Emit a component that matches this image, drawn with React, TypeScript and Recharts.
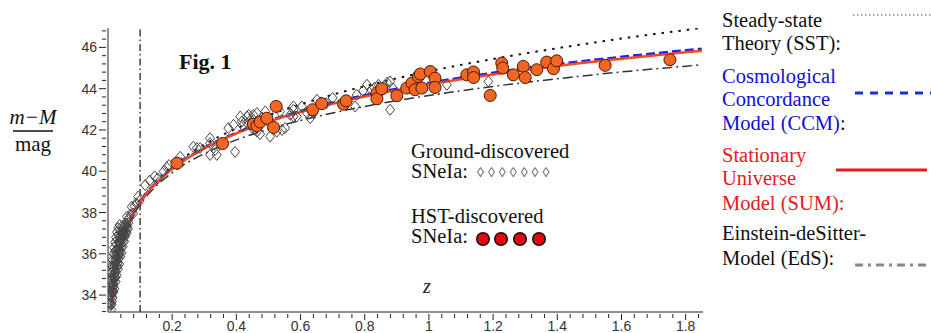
import React from "react";
import { ComposedChart, Line, Scatter, XAxis, YAxis, ReferenceLine } from "recharts";

// model curves at these redshifts
const modelZ = [0.01, 0.02, 0.03, 0.04, 0.05, 0.075, 0.1, 0.15, 0.2, 0.3, 0.4, 0.5, 0.6, 0.7, 0.8, 0.9, 1.0, 1.2, 1.4, 1.6, 1.8, 1.85];
const sstMag = [33.35, 34.88, 35.78, 36.43, 36.93, 37.86, 38.54, 39.51, 40.23, 41.29, 42.07, 42.71, 43.24, 43.71, 44.12, 44.5, 44.84, 45.44, 45.96, 46.43, 46.84, 46.94];
const ccmMag = [33.35, 34.87, 35.77, 36.41, 36.91, 37.83, 38.49, 39.44, 40.13, 41.13, 41.86, 42.43, 42.91, 43.32, 43.67, 43.99, 44.27, 44.76, 45.18, 45.53, 45.85, 45.92];
const sumMag = [33.35, 34.87, 35.77, 36.41, 36.91, 37.83, 38.49, 39.44, 40.12, 41.11, 41.83, 42.4, 42.87, 43.27, 43.62, 43.93, 44.21, 44.69, 45.1, 45.45, 45.76, 45.83];
const edsMag = [33.34, 34.85, 35.73, 36.36, 36.85, 37.74, 38.38, 39.28, 39.93, 40.85, 41.52, 42.03, 42.46, 42.82, 43.14, 43.42, 43.67, 44.11, 44.48, 44.81, 45.09, 45.16];

// ground-discovered SNe Ia [z, m-M]
const groundSNe = [
  [0.01, 33.3], [0.011, 33.55], [0.012, 33.7], [0.012, 33.95], [0.013, 34.1], [0.014, 33.85], [0.014, 34.35],
  [0.015, 34.2], [0.016, 34.55], [0.016, 34.8], [0.017, 34.45], [0.018, 34.95], [0.018, 35.2], [0.019, 34.7],
  [0.02, 35.05], [0.021, 35.4], [0.021, 34.9], [0.022, 35.25], [0.023, 35.55], [0.024, 35.1], [0.024, 35.75],
  [0.025, 35.45], [0.026, 35.9], [0.026, 35.3], [0.027, 35.65], [0.028, 36.05], [0.029, 35.8], [0.03, 35.55],
  [0.03, 36.2], [0.031, 36.0], [0.032, 35.75], [0.033, 36.35], [0.034, 36.1], [0.035, 36.55], [0.036, 36.3],
  [0.037, 36.05], [0.038, 36.7], [0.039, 36.45], [0.04, 36.85], [0.041, 36.6], [0.042, 36.3], [0.043, 36.95],
  [0.044, 36.75], [0.045, 37.05], [0.046, 36.85], [0.047, 37.2], [0.048, 36.6], [0.049, 37.0], [0.05, 37.25],
  [0.052, 36.95], [0.053, 37.15], [0.055, 37.35], [0.057, 37.1], [0.058, 37.45], [0.06, 37.3], [0.059, 37.8],
  [0.062, 37.65], [0.064, 37.5], [0.067, 37.75], [0.07, 37.9], [0.074, 38.28], [0.078, 37.95], [0.083, 38.3],
  [0.088, 38.45], [0.094, 38.77], [0.098, 38.55],
  [0.007, 33.6], [0.008, 34.0], [0.009, 34.4], [0.01, 34.75], [0.011, 35.1], [0.013, 35.4], [0.015, 35.7],
  [0.017, 36.0], [0.019, 36.3], [0.022, 36.55], [0.025, 36.8], [0.028, 37.05], [0.032, 37.25], [0.036, 37.4],
  [0.02, 34.3], [0.024, 34.65], [0.027, 34.95], [0.031, 35.25], [0.035, 35.5], [0.038, 35.85], [0.042, 36.05],
  [0.046, 36.35], [0.05, 36.6], [0.054, 36.85], [0.058, 37.0], [0.062, 37.2], [0.012, 34.5], [0.014, 34.95],
  [0.016, 35.35], [0.019, 35.6], [0.021, 35.95], [0.023, 36.15], [0.027, 36.45], [0.03, 36.7], [0.034, 36.9],
  [0.04, 37.15], [0.044, 37.35], [0.009, 33.5], [0.011, 34.2], [0.017, 34.15], [0.023, 34.85], [0.029, 35.4],
  [0.033, 35.95], [0.037, 36.5], [0.048, 37.1], [0.052, 37.4],
  [0.116, 39.33], [0.13, 39.55], [0.145, 39.75], [0.155, 39.65],
  [0.173, 39.98], [0.183, 40.19], [0.19, 40.3], [0.225, 40.7], [0.266, 41.19], [0.277, 41.12], [0.287, 41.12],
  [0.318, 41.36], [0.318, 41.6], [0.318, 40.79], [0.334, 41.03], [0.339, 40.79], [0.375, 42.09], [0.391, 42.25],
  [0.396, 40.94], [0.412, 42.65], [0.417, 42.41], [0.42, 42.2], [0.433, 42.33], [0.433, 42.65], [0.438, 42.73],
  [0.445, 42.5], [0.45, 42.1], [0.453, 42.73], [0.464, 42.82], [0.464, 41.92], [0.474, 41.8], [0.48, 42.6],
  [0.49, 42.9], [0.5, 42.4], [0.505, 41.68], [0.526, 41.92], [0.536, 42.89], [0.542, 42.0], [0.552, 42.09],
  [0.568, 42.73], [0.578, 42.98], [0.578, 42.65], [0.578, 43.14], [0.588, 42.65], [0.604, 43.14], [0.62, 42.82],
  [0.63, 42.57], [0.64, 42.82], [0.651, 43.46], [0.68, 43.3], [0.7, 43.55], [0.77, 43.14], [0.775, 43.7],
  [0.795, 43.9], [0.807, 44.19], [0.82, 43.95], [0.83, 44.05], [0.843, 44.19], [0.85, 43.9], [0.86, 44.1],
  [0.87, 44.3], [0.879, 44.35], [0.879, 42.98], [0.889, 44.0], [1.056, 44.19], [1.185, 44.35],
];

// HST-discovered SNe Ia [z, m-M]
const hstSNe = [
  [0.215, 40.39], [0.357, 41.34], [0.453, 42.28], [0.464, 42.2], [0.474, 42.38], [0.495, 42.57], [0.516, 42.12],
  [0.524, 43.14], [0.638, 42.98], [0.666, 43.27], [0.734, 43.25], [0.742, 43.41], [0.838, 43.79], [0.838, 43.51],
  [0.853, 43.99], [0.9, 43.66], [0.931, 44.03], [0.947, 44.27], [0.957, 43.95], [0.967, 44.59], [0.973, 44.71],
  [0.978, 44.03], [1.004, 44.83], [1.019, 44.51], [1.019, 44.06], [1.118, 44.67], [1.139, 44.81], [1.139, 44.54],
  [1.191, 43.67], [1.227, 45.24], [1.23, 45.0], [1.263, 44.67], [1.294, 45.08], [1.3, 44.54], [1.336, 44.92],
  [1.367, 45.29], [1.388, 44.97], [1.398, 45.35], [1.549, 45.13], [1.751, 45.4],
];

const xMajor = [0.2, 0.4, 0.6, 0.8, 1, 1.2, 1.4, 1.6, 1.8];
const yMajor = [34, 36, 38, 40, 42, 44, 46];

const xTicks: number[] = [];
for (let i = 1; i <= 46; i++) xTicks.push(+(i * 0.04).toFixed(2));
const yTicks: number[] = [];
for (let i = 0; i <= 34; i++) yTicks.push(+(33.2 + i * 0.4).toFixed(1));

const curve = (mags: number[]) => modelZ.map((z, i) => ({ z, m: mags[i] }));
const pts = (arr: number[][]) => arr.map(([z, m]) => ({ z, m }));

const SANS = "'Liberation Sans', Arial, sans-serif";
const SERIF = "'Liberation Serif', 'Times New Roman', Times, serif";

const XTick = ({ x, y, payload }: any) => {
  const v = payload.value;
  const major = xMajor.some((t) => Math.abs(t - v) < 1e-6);
  return (
    <g>
      <line x1={x} x2={x} y1={y} y2={y + (major ? 6 : 4)} stroke="#222" />
      {major && (
        <text x={x} y={y + 17} textAnchor="middle" fontSize={14} fontFamily={SANS} fill="#333">
          {String(+v.toFixed(1))}
        </text>
      )}
    </g>
  );
};

const YTick = ({ x, y, payload }: any) => {
  const v = payload.value;
  const major = yMajor.some((t) => Math.abs(t - v) < 1e-6);
  return (
    <g>
      <line x1={x} x2={x - (major ? 7 : 4)} y1={y} y2={y} stroke="#222" />
      {major && (
        <text x={x - 9} y={y + 5} textAnchor="end" fontSize={14} fontFamily={SANS} fill="#333">
          {v}
        </text>
      )}
    </g>
  );
};

const Diamond = ({ cx, cy }: any) => (
  <polygon
    points={`${cx},${cy - 5.5} ${cx + 4.5},${cy} ${cx},${cy + 5.5} ${cx - 4.5},${cy}`}
    fill="none"
    stroke="#444"
    strokeWidth={1}
  />
);

const Dot = ({ cx, cy }: any) => <circle cx={cx} cy={cy} r={6} fill="#f26522" stroke="#4a1a00" strokeWidth={1} />;

const T = ({ x, y, c = "#111", size = 20.5, children, ...rest }: any) => (
  <text x={x} y={y} fontSize={size} fill={c} style={{ fontFamily: SERIF }} {...rest}>
    {children}
  </text>
);

export default function App() {
  return (
    <div style={{ position: "absolute", left: 0, top: 0, width: 931, height: 333, background: "#fff" }}>
      <ComposedChart width={931} height={333} margin={{ top: 28, right: 228, bottom: 0, left: 68 }}>
        <XAxis
          type="number"
          dataKey="z"
          domain={[0, 1.854]}
          ticks={xTicks}
          interval={0}
          tickSize={0}
          tickLine={false}
          tick={(p: any) => <XTick {...p} />}
          axisLine={{ stroke: "#222" }}
          height={21}
          allowDataOverflow
        />
        <YAxis
          type="number"
          dataKey="m"
          domain={[33.18, 46.94]}
          ticks={yTicks}
          interval={0}
          tickSize={0}
          tickLine={false}
          tick={(p: any) => <YTick {...p} />}
          axisLine={{ stroke: "#222" }}
          width={40}
          allowDataOverflow
        />
        <ReferenceLine x={0.1} stroke="#111" strokeDasharray="7 3 1.5 3" strokeWidth={1.2} />
        <Scatter data={pts(groundSNe)} shape={(p: any) => <Diamond {...p} />} isAnimationActive={false} />
        <Line data={curve(sstMag)} dataKey="m" type="monotone" stroke="#111" strokeWidth={2} strokeDasharray="2.5 6" dot={false} isAnimationActive={false} />
        <Line data={curve(edsMag)} dataKey="m" type="monotone" stroke="#333" strokeWidth={1.5} strokeDasharray="10 4 2 4" dot={false} isAnimationActive={false} />
        <Line data={curve(ccmMag)} dataKey="m" type="monotone" stroke="#2222ee" strokeWidth={3} strokeDasharray="9 4" dot={false} isAnimationActive={false} />
        <Line data={curve(sumMag)} dataKey="m" type="monotone" stroke="#ef4a23" strokeWidth={2.5} dot={false} isAnimationActive={false} />
        <Scatter data={pts(hstSNe)} shape={(p: any) => <Dot {...p} />} isAnimationActive={false} />
      </ComposedChart>

      <svg width={931} height={333} style={{ position: "absolute", left: 0, top: 0, pointerEvents: "none" }}>
        <T x={179} y={69} size={22} fontWeight="bold">Fig. 1</T>

        <T x={33} y={124} size={21} fontStyle="italic" textAnchor="middle">m−M</T>
        <line x1={13} x2={53} y1={131} y2={131} stroke="#111" strokeWidth={1.5} />
        <T x={33} y={151} size={21} textAnchor="middle">mag</T>

        <T x={427} y={293} size={20} fontStyle="italic" textAnchor="middle" c="#222">z</T>

        <T x={411} y={158}>Ground-discovered</T>
        <T x={411} y={178}>SNeIa:</T>
        <T x={477} y={177} size={14} letterSpacing={4} c="#555">◊◊◊◊◊◊◊</T>
        <T x={411} y={223}>HST-discovered</T>
        <T x={411} y={243}>SNeIa:</T>
        {[483, 501, 520, 539].map((cx) => (
          <circle key={cx} cx={cx} cy={239} r={6.3} fill="#e8000e" stroke="#111" strokeWidth={1.5} />
        ))}

        <T x={722} y={27}>Steady-state</T>
        <T x={722} y={50}>Theory (SST):</T>
        <line x1={853} x2={931} y1={15} y2={15} stroke="#888" strokeWidth={1.5} strokeDasharray="1.5 2.5" />

        <T x={722} y={83} c="#1010d0">Cosmological</T>
        <T x={722} y={106} c="#1010d0">Concordance</T>
        <T x={722} y={130} c="#1010d0">
          Model (CCM)<tspan fill="#111">:</tspan>
        </T>
        <line x1={855} x2={931} y1={93} y2={93} stroke="#1a2fe0" strokeWidth={3} strokeDasharray="8 7" />

        <T x={722} y={162} c="#e41a1c">Stationary</T>
        <T x={722} y={185} c="#e41a1c">Universe</T>
        <T x={722} y={210} c="#e41a1c">Model (SUM):</T>
        <line x1={836} x2={927} y1={170} y2={170} stroke="#e41a1c" strokeWidth={3} />

        <T x={722} y={240}>Einstein-deSitter-</T>
        <T x={722} y={265}>Model (EdS):</T>
        <line x1={855} x2={931} y1={265} y2={265} stroke="#888" strokeWidth={3} strokeDasharray="8 5 3 5" />
      </svg>
    </div>
  );
}
